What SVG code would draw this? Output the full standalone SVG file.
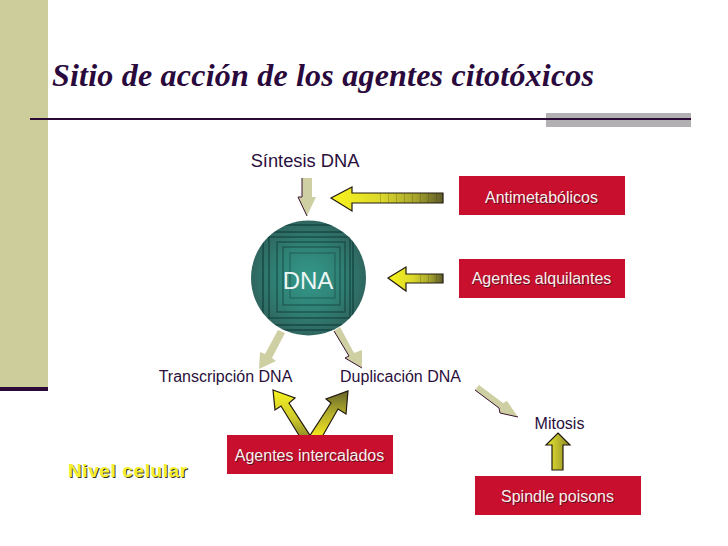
<svg xmlns="http://www.w3.org/2000/svg" width="728" height="546" viewBox="0 0 728 546">
<style>
text{font-family:"Liberation Sans",Arial,sans-serif}
.t{font-size:16px;fill:#2a0f3c;text-anchor:middle}
.b{fill:#c8102e}
.w{font-size:16px;fill:#fbeeee;text-anchor:middle}
.s{font-size:16px;fill:#5a1020;text-anchor:middle}
.ta{fill:#cfcfa4}
.te{fill:none;stroke:#3a1230;stroke-width:1}
.y{stroke:#221a10;stroke-width:1.2;stroke-linejoin:miter}
.sq{fill:none;stroke:#123f3c;stroke-width:1.2}
.band{fill:none;stroke:#2a2a10;stroke-opacity:.22;stroke-dasharray:1 7}
</style>
<defs>
<linearGradient id="gh" x1="0" y1="0" x2="1" y2="0"><stop offset="0" stop-color="#f8f41c"/><stop offset=".45" stop-color="#dcd82c"/><stop offset=".75" stop-color="#a8a62c"/><stop offset="1" stop-color="#5e5c2a"/></linearGradient>
<linearGradient id="gv" x1="0" y1="0" x2="1" y2="0"><stop offset="0" stop-color="#eeea30"/><stop offset="1" stop-color="#8a8828"/></linearGradient>
<linearGradient id="gl" x1="0" y1="0" x2="0" y2="1"><stop offset="0" stop-color="#f6f220"/><stop offset=".6" stop-color="#cfcb2c"/><stop offset="1" stop-color="#8f8c28"/></linearGradient>
<linearGradient id="gr" x1="0" y1="0" x2="0" y2="1"><stop offset="0" stop-color="#66642a"/><stop offset=".5" stop-color="#b4b02c"/><stop offset="1" stop-color="#f6e81c"/></linearGradient>
<radialGradient id="gc" cx=".5" cy=".5" r=".55"><stop offset="0" stop-color="#33998a"/><stop offset=".55" stop-color="#2f8074"/><stop offset="1" stop-color="#2f5f5a"/></radialGradient>
<clipPath id="cc"><circle cx="308.5" cy="278" r="57.5"/></clipPath>
</defs>
<rect width="728" height="546" fill="#fff"/>
<g id="frame">
<rect x="0" y="0" width="48" height="388" fill="#cdcd9c"/>
<rect x="0" y="387" width="48" height="4" fill="#2c0a38"/>
<rect x="546" y="113" width="145" height="14" fill="#b2b0b2"/>
<rect x="30" y="118" width="661" height="2" fill="#2c0a38"/>
</g>
<g id="title"><text x="52" y="86" style="font-family:'Liberation Serif',serif;font-size:32px;font-weight:bold;font-style:italic;fill:#2a0a3c" textLength="542" lengthAdjust="spacing">Sitio de acción de los agentes citotóxicos</text></g>
<g id="connectors">
<g id="c-sintesis"><polygon class="ta" points="302,178 312,178 312,197 316,197 307,216 298,197 302,197"/><polyline class="te" points="302,178 302,197 298,197 307,216"/></g>
<g id="c-transcripcion"><polygon class="ta" points="278,330 285,333 272,358 276,361 259,369 260,352 265,354"/></g>
<g id="c-duplicacion"><polygon class="ta" points="334,331 340,327 354,353 362,350 362,368 345,358 349,356"/><polyline class="te" points="334,331 349,356 345,358 362,368"/></g>
<g id="c-mitosis"><polygon class="ta" points="475,390 479,385 503,403 507,401 518,417 500,413 500,409"/><polyline class="te" points="475,390 499,408 500,413 518,417"/></g>
<polygon id="c-anti" class="y" fill="url(#gh)" points="331,198 352,187 352,193 443,193 443,203 352,203 352,211"/>
<line class="band" x1="380" y1="198" x2="443" y2="198" stroke-width="9"/>
<polygon id="c-alq" class="y" fill="url(#gh)" points="388,278 406,267 406,274 443,274 443,283 406,283 406,291"/>
<line class="band" x1="420" y1="278.500" x2="443" y2="278.500" stroke-width="8"/>
<polygon id="c-int-l" class="y" fill="url(#gl)" points="273,390 295,398 289,403 311,437 300,437 281,406 275,410"/>
<polygon id="c-int-r" class="y" fill="url(#gr)" points="348,391 346,414 338,409 322,437 309,437 331,403 326,399"/>
<polygon id="c-spindle" class="y" fill="url(#gv)" points="558,433 570,445 563,445 563,470 552,470 552,445 546,445"/>
</g>
<g id="dna">
<circle cx="308.500" cy="278" r="57.500" fill="url(#gc)"/>
<g clip-path="url(#cc)">
<rect x="240" y="225" width="136" height="105" class="sq"/>
<rect x="263" y="232" width="90" height="93" class="sq"/>
<rect x="269" y="237" width="81" height="81" class="sq" stroke-opacity=".9"/>
<rect x="277" y="242" width="68" height="70" class="sq" stroke-opacity=".8"/>
<rect x="283" y="247" width="57" height="58" class="sq" stroke-opacity=".65"/>
<rect x="290" y="253" width="45" height="45" class="sq" stroke-opacity=".45"/>
</g>
<text x="308" y="289" style="font-size:24px;fill:#eef6f4;text-anchor:middle">DNA</text>
</g>
<g id="n-sintesis"><text class="t" x="305" y="167" style="font-size:18.300px">Síntesis DNA</text></g>
<g id="n-transcripcion"><text class="t" x="225.500" y="382">Transcripción DNA</text></g>
<g id="n-duplicacion"><text class="t" x="400.500" y="382">Duplicación DNA</text></g>
<g id="n-mitosis"><text class="t" x="559.500" y="429">Mitosis</text></g>
<g id="n-antimetabolicos"><rect class="b" x="459" y="176" width="166" height="39"/><text class="s" x="542.200" y="203.700">Antimetabólicos</text><text class="w" x="541.500" y="203">Antimetabólicos</text></g>
<g id="n-alquilantes"><rect class="b" x="459" y="259" width="166" height="39"/><text class="s" x="542.200" y="284.700">Agentes alquilantes</text><text class="w" x="541.500" y="284">Agentes alquilantes</text></g>
<g id="n-intercalados"><rect class="b" x="227" y="435" width="166" height="39"/><text class="s" x="310.200" y="461.700">Agentes intercalados</text><text class="w" x="309.500" y="461">Agentes intercalados</text></g>
<g id="n-spindle"><rect class="b" x="475" y="476" width="166" height="39"/><text class="s" x="558.200" y="502.700">Spindle poisons</text><text class="w" x="557.500" y="502">Spindle poisons</text></g>
<g id="n-nivel"><text x="69" y="478" style="font-size:19px;font-weight:bold;fill:#3a3a20;letter-spacing:.6px">Nivel celular</text><text x="68" y="477" style="font-size:19px;font-weight:bold;fill:#f4f030;letter-spacing:.6px">Nivel celular</text></g>
</svg>
